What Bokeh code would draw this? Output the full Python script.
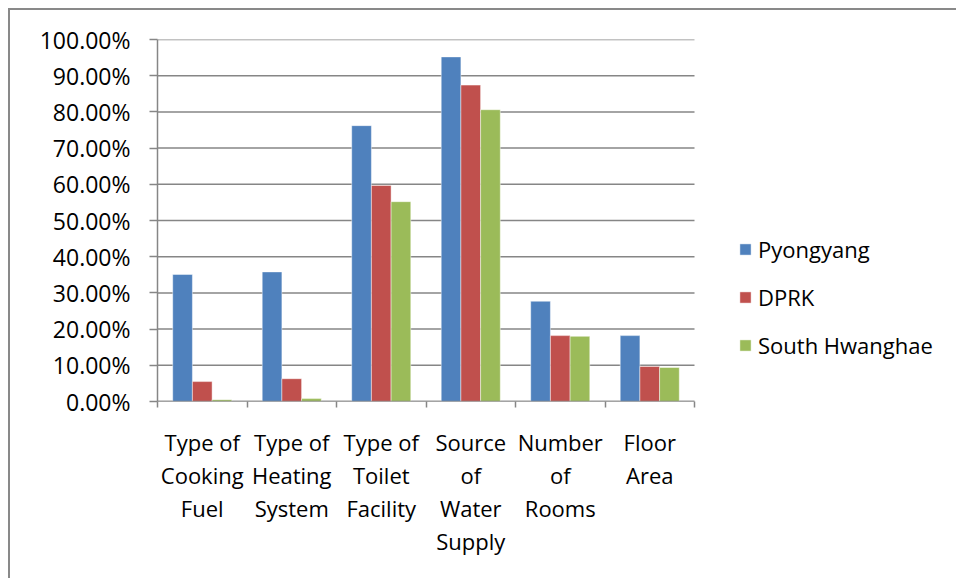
from bokeh.plotting import figure
from bokeh.models import Range1d, FixedTicker, NumeralTickFormatter, ColumnDataSource
from bokeh.embed import file_html
from bokeh.resources import INLINE

categories = ["Type of\nCooking\nFuel", "Type of\nHeating\nSystem", "Type of\nToilet\nFacility",
              "Source\nof\nWater\nSupply", "Number\nof\nRooms", "Floor\nArea"]
pyongyang = [0.351, 0.358, 0.762, 0.952, 0.277, 0.182]
dprk = [0.055, 0.063, 0.597, 0.874, 0.182, 0.097]
south_hwanghae = [0.005, 0.008, 0.552, 0.806, 0.180, 0.094]
series_names = ["Pyongyang", "DPRK", "South Hwanghae"]
colors = ["#4F81BD", "#C0504D", "#9BBB59"]
y_ticks = [i / 10 for i in range(11)]

FONT = "Open Sans"
GRAY = "#868686"

# layout (pixels)
W, H = 948, 570
LEFT, TOP, BOTTOM, RIGHT = 147, 29, 179, 8
cat_px = (694 - 157) / 6.0
frame_w = W - LEFT - RIGHT
n = len(categories)
x_max = frame_w / cat_px

p = figure(width=W, height=H, output_backend="svg", toolbar_location=None,
           x_range=Range1d(0, x_max), y_range=Range1d(0, 1),
           min_border_left=LEFT, min_border_top=TOP, min_border_right=RIGHT, min_border_bottom=BOTTOM,
           styles={"margin-left": "8px", "margin-top": "8px",
                   "border-top": "2px solid #898989", "border-left": "2px solid #898989",
                   "border-right": "0px none", "border-bottom": "0px none",
                   "overflow": "hidden"})
p.outline_line_color = None
p.background_fill_color = "white"
p.border_fill_color = "white"

# horizontal gridlines over the category area only
p.segment(x0=[0] * len(y_ticks), x1=[n] * len(y_ticks), y0=y_ticks, y1=y_ticks,
          line_color=GRAY, line_width=1.5)

width = 0.22
offsets = [-width, 0.0, width]
for name, vals, col, off in zip(series_names, [pyongyang, dprk, south_hwanghae], colors, offsets):
    src = ColumnDataSource(dict(x=[i + 0.5 + off for i in range(n)], top=vals))
    p.vbar(x="x", top="top", width=width, source=src, fill_color=col,
           line_color="white", line_alpha=0.45, line_width=1, legend_label=name)

# y axis
p.yaxis.ticker = FixedTicker(ticks=y_ticks)
p.yaxis.formatter = NumeralTickFormatter(format="0.00%")
p.yaxis.axis_line_color = GRAY
p.yaxis.axis_line_width = 1.5
p.yaxis.major_tick_line_color = GRAY
p.yaxis.major_tick_line_width = 1.5
p.yaxis.major_tick_out = 8
p.yaxis.major_tick_in = 0
p.yaxis.minor_tick_line_color = None
p.yaxis.major_label_standoff = 19
p.yaxis.major_label_text_font = FONT
p.yaxis.major_label_text_font_size = "23px"
p.yaxis.major_label_text_color = "black"

# x axis (line drawn as a segment limited to the categories)
p.segment(x0=[0], x1=[n], y0=[0], y1=[0], line_color=GRAY, line_width=1.5)
p.xaxis.ticker = FixedTicker(ticks=[i + 0.5 for i in range(n)], minor_ticks=list(range(n + 1)))
p.xaxis.major_label_overrides = {i + 0.5: c for i, c in enumerate(categories)}
p.xaxis.axis_line_color = None
p.xaxis.major_tick_line_color = None
p.xaxis.major_tick_out = 0
p.xaxis.major_tick_in = 0
p.xaxis.minor_tick_line_color = GRAY
p.xaxis.minor_tick_line_width = 1.5
p.xaxis.minor_tick_out = 6
p.xaxis.minor_tick_in = 0
p.xaxis.major_label_standoff = 19
p.xaxis.major_label_text_font = FONT
p.xaxis.major_label_text_font_size = "22px"
p.xaxis.major_label_text_line_height = 1.1
p.xaxis.major_label_text_color = "black"
p.xaxis.major_label_text_align = "center"

p.xgrid.grid_line_color = None
p.ygrid.grid_line_color = None

lg = p.legend[0]
lg.location = (738 - 157, 401 - 360)
lg.border_line_color = None
lg.background_fill_alpha = 0
lg.padding = 0
lg.margin = 0
lg.glyph_width = 14
lg.glyph_height = 14
lg.label_height = 30
lg.spacing = 18
lg.label_standoff = 6
lg.label_text_font = FONT
lg.label_text_font_size = "22px"
lg.label_text_color = "black"

open("out.html", "w").write(file_html(p, INLINE))
